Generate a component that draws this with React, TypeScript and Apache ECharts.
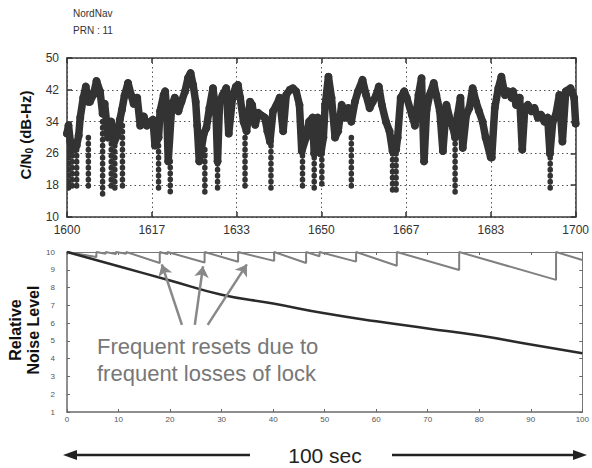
import React, { useEffect, useRef } from 'react';
import * as echarts from 'echarts';

// ---------- Top panel: C/N0 over time (NordNav, PRN 11) ----------
const topTickLabels = ['1600', '1617', '1633', '1650', '1667', '1683', '1700'];
const cnTickValues = [10, 18, 26, 34, 42, 50];

const cnTime = [
  1600.0, 1600.3, 1600.65, 1601.3, 1601.9, 1602.3, 1602.6, 1603.2, 1603.7, 1604.2,
  1604.5, 1605.2, 1605.8, 1606.5, 1607.0, 1607.4, 1608.1, 1608.7, 1609.3, 1609.9,
  1610.4, 1610.8, 1611.3, 1612.0, 1612.6, 1613.1, 1613.8, 1614.4, 1615.1, 1615.7,
  1616.4, 1616.9, 1617.3, 1618.0, 1618.3, 1619.0, 1619.3, 1619.6, 1619.9, 1620.6,
  1621.2, 1621.9, 1622.5, 1623.2, 1623.8, 1624.3, 1624.8, 1625.3, 1625.6, 1626.0,
  1626.4, 1626.9, 1627.4, 1628.0, 1628.7, 1629.3, 1629.6, 1630.0, 1630.6, 1631.3,
  1631.8, 1632.6, 1633.2, 1633.6, 1634.05, 1634.7, 1635.3, 1636.0, 1636.4, 1637.0,
  1637.6, 1638.3, 1638.9, 1639.4, 1639.9, 1640.5, 1641.2, 1641.8, 1642.5, 1643.1,
  1643.8, 1644.4, 1645.05, 1645.7, 1646.15, 1647.0, 1647.6, 1648.3, 1648.6, 1649.3,
  1649.9, 1650.4, 1650.75, 1651.4, 1652.0, 1652.7, 1653.3, 1654.0, 1654.6, 1655.3,
  1655.9, 1656.6, 1657.2, 1658.1, 1658.8, 1659.5, 1660.1, 1660.8, 1661.3, 1661.9,
  1662.7, 1663.4, 1664.0, 1664.7, 1665.0, 1665.6, 1666.3, 1666.8, 1667.8, 1668.4,
  1669.1, 1669.7, 1670.2, 1670.7, 1671.3, 1672.1, 1672.6, 1673.3, 1673.9, 1674.6,
  1675.2, 1675.9, 1676.3, 1676.8, 1677.35, 1677.8, 1678.5, 1679.1, 1679.75, 1680.4,
  1681.0, 1681.7, 1682.3, 1683.3, 1683.5, 1684.1, 1684.8, 1685.4, 1686.1, 1686.7,
  1687.4, 1687.7, 1688.3, 1689.0, 1689.5, 1690.0, 1690.6, 1691.3, 1691.9, 1692.55,
  1693.2, 1693.85, 1694.5, 1694.95, 1695.5, 1696.1, 1696.8, 1697.4, 1698.05, 1699.0,
  1699.7, 1700.0,
];
const cnValue = [
  31, 33, 29, 27, 28, 30.5, 35, 40, 42.8, 39,
  39, 40.8, 44.2, 41.6, 36, 38.5, 30, 34, 29, 30.5,
  34.5, 37, 40.5, 43.7, 40.7, 38.5, 40, 33, 35.3, 33,
  34, 34.5, 28, 30, 36.6, 40.7, 41.6, 37, 24, 38.2,
  40, 36.6, 39, 41.6, 45, 46.2, 43.2, 39, 33, 24,
  27, 31, 32.4, 37.4, 42.4, 36, 24, 39, 40.7, 42.4,
  31, 40.7, 42.8, 43.2, 40, 34, 31.6, 39, 38.2, 33.2,
  36.2, 35.5, 35, 31.6, 29, 36.6, 38.2, 40, 31.6, 40.7,
  42, 42.4, 41.6, 38.2, 26.6, 30, 34, 35, 26, 35,
  26, 30, 38, 45.3, 40, 30, 31.6, 38.2, 35, 37.4,
  34, 39, 41.6, 44.5, 40.7, 37.4, 39, 40.7, 42.8, 38.2,
  34, 31.6, 26.6, 27, 30, 40, 41.6, 40, 35.7, 33,
  40.7, 44.9, 24, 37, 40.7, 43.7, 40.7, 36.6, 26.6, 38.2,
  35, 32.4, 30, 35.7, 40, 27.4, 35.7, 37.4, 42.4, 39,
  36.6, 34, 30, 25, 25, 37.4, 42.4, 45.3, 40.7, 41.6,
  40, 41.6, 38.2, 40, 27, 37.4, 38.2, 36.6, 37.4, 35,
  35.7, 34, 35, 26, 34, 35.7, 40.7, 29, 41.6, 42.4,
  40, 33.5,
];

// Loss-of-lock dropouts (chains of low readings)
const dropTime = [
  1600.3, 1601.0, 1601.9, 1604.2, 1607.0, 1608.7, 1609.4, 1610.9, 1618.0, 1620.3,
  1627.1, 1629.6, 1635.0, 1640.1, 1646.3, 1648.6, 1650.1, 1655.9, 1664.0, 1664.7,
  1676.3, 1695.0,
];
const dropTop = [
  28, 27, 27, 30, 34, 30, 28, 33, 28, 24,
  27, 25, 30, 28, 27, 25, 26, 30, 26, 26,
  30, 25,
];
const dropLow = [
  17, 16.5, 16.5, 17, 15.8, 16.5, 17, 17, 16.5, 16,
  16, 17, 16.5, 16.5, 17, 17, 17, 17, 16.5, 16.5,
  16, 16.5,
];

// ---------- Bottom panel: relative noise level ----------
const noiseX = [0, 10, 20, 30, 40, 50, 60, 70, 80, 90, 100];
const noiseY = [10, 9.2, 8.4, 7.6, 7.1, 6.55, 6.1, 5.7, 5.3, 4.8, 4.3];

const sawX = [
  0, 5.7, 5.7, 7.5, 7.5, 9.5, 9.5, 11.5, 11.5, 18, 18, 19.5, 19.5, 26.7, 26.7,
  33.2, 33.2, 40.2, 40.2, 46.4, 46.4, 49, 49, 56.1, 56.1, 64, 64, 76.1, 76.1,
  94.9, 94.9, 100,
];
const sawY = [
  10, 9.72, 10, 9.9, 10, 9.88, 10, 9.9, 10, 9.38, 10, 9.88, 10, 9.41, 10,
  9.45, 10, 9.5, 10, 9.38, 10, 9.76, 10, 9.46, 10, 9.23, 10, 8.99, 10,
  8.43, 10, 9.55,
];

// Annotation arrows (data coordinates of the bottom panel)
const arrowFromX = [22.3, 24.8, 27.3];
const arrowFromY = [5.9, 5.9, 5.9];
const arrowToX = [18.4, 26.4, 34.9];
const arrowToY = [9.3, 9.2, 9.3];

const FONT = "'Liberation Sans Narrow', 'Liberation Sans', Arial, sans-serif";
const FONT_W = "'Liberation Sans', Arial, sans-serif";

export default function App() {
  const ref = useRef<HTMLDivElement>(null);

  useEffect(() => {
    const chart = echarts.init(ref.current as HTMLDivElement, null, { renderer: 'svg' });
    const sx = (t: number) => (t - 1600) * 0.06;

    const topAxisLine = { show: true, onZero: false, lineStyle: { color: '#3a3a3a', width: 1.5 } };
    const topTick = { show: true, inside: true, length: 5, lineStyle: { color: '#333', width: 1.5 } };
    const gridDot = { show: true, lineStyle: { color: '#555', type: [1.5, 3], width: 1 } };
    const botAxisLine = { show: true, onZero: false, lineStyle: { color: '#6a6a6a', width: 1.5 } };
    const botTick = { show: true, inside: true, length: 3, lineStyle: { color: '#666', width: 1 } };

    const option: any = {
      animation: false,
      grid: [
        { left: 67, top: 58, width: 515, height: 159 },
        { left: 67, top: 252, width: 516, height: 160 },
      ],
      xAxis: [
        {
          gridIndex: 0, type: 'value', min: 0, max: 6, interval: 1, position: 'bottom',
          axisLine: topAxisLine, axisTick: topTick, splitLine: gridDot,
          axisLabel: {
            formatter: (v: number) => topTickLabels[Math.round(v)],
            color: '#333', fontSize: 12, fontFamily: FONT, margin: 7,
          },
        },
        {
          gridIndex: 0, type: 'value', min: 0, max: 6, interval: 1, position: 'top',
          axisLine: topAxisLine, axisTick: topTick, splitLine: { show: false },
          axisLabel: { show: false },
        },
        {
          gridIndex: 1, type: 'value', min: 0, max: 100, interval: 10, position: 'bottom',
          axisLine: botAxisLine, axisTick: botTick, splitLine: { show: false },
          axisLabel: { color: '#555', fontSize: 8, fontFamily: FONT_W, margin: 3 },
        },
        {
          gridIndex: 1, type: 'value', min: 0, max: 100, interval: 10, position: 'top',
          axisLine: { show: true, onZero: false, lineStyle: { color: '#777', width: 1 } },
          axisTick: botTick, splitLine: { show: false }, axisLabel: { show: false },
        },
      ],
      yAxis: [
        {
          gridIndex: 0, type: 'value', min: 0, max: 40, interval: 8, position: 'left',
          axisLine: topAxisLine, axisTick: topTick, splitLine: gridDot,
          axisLabel: {
            formatter: (v: number) => String(cnTickValues[Math.round(v / 8)]),
            color: '#333', fontSize: 12, fontFamily: FONT, margin: 8,
          },
        },
        {
          gridIndex: 0, type: 'value', min: 0, max: 40, interval: 8, position: 'right',
          axisLine: topAxisLine, axisTick: topTick, splitLine: { show: false },
          axisLabel: { show: false },
        },
        {
          gridIndex: 1, type: 'value', min: 1, max: 10, interval: 1, position: 'left',
          axisLine: botAxisLine, axisTick: botTick, splitLine: { show: false },
          axisLabel: { color: '#555', fontSize: 8, fontFamily: FONT_W, margin: 12 },
        },
        {
          gridIndex: 1, type: 'value', min: 1, max: 10, interval: 1, position: 'right',
          axisLine: { show: true, onZero: false, lineStyle: { color: '#777', width: 1 } },
          axisTick: botTick, splitLine: { show: false }, axisLabel: { show: false },
        },
      ],
      series: [
        {
          type: 'custom',
          xAxisIndex: 0, yAxisIndex: 0,
          clip: true,
          data: dropTime.map((t, i) => [sx(t), dropTop[i] - 10, dropLow[i] - 10]),
          encode: { x: 0, y: [1, 2] },
          renderItem: (params: any, api: any) => {
            const p1 = api.coord([api.value(0), api.value(1)]);
            const p2 = api.coord([api.value(0), api.value(2)]);
            return {
              type: 'line',
              shape: { x1: p1[0], y1: p1[1], x2: p2[0], y2: p2[1] },
              style: { stroke: '#333', lineWidth: 5.5, lineDash: [0.5, 5.5], lineCap: 'round' },
            };
          },
        },
        {
          type: 'line',
          xAxisIndex: 0, yAxisIndex: 0,
          data: cnTime.map((t, i) => [sx(t), cnValue[i] - 10]),
          symbol: 'circle', symbolSize: 8, showSymbol: true,
          itemStyle: { color: '#333' },
          lineStyle: { color: '#333', width: 7.5, join: 'round', cap: 'round' },
          clip: true,
        },
        {
          type: 'line',
          xAxisIndex: 2, yAxisIndex: 2,
          data: sawX.map((x, i) => [x, sawY[i]]),
          showSymbol: false,
          lineStyle: { color: '#808080', width: 2 },
          markLine: {
            silent: true,
            symbol: ['none', 'arrow'],
            symbolSize: 11,
            label: { show: false },
            lineStyle: { color: '#888', width: 2.5, type: 'solid' },
            data: arrowFromX.map((x, i) => [
              { coord: [x, arrowFromY[i]] },
              { coord: [arrowToX[i], arrowToY[i]] },
            ]),
          },
        },
        {
          type: 'line',
          xAxisIndex: 2, yAxisIndex: 2,
          data: noiseX.map((x, i) => [x, noiseY[i]]),
          smooth: true,
          showSymbol: false,
          lineStyle: { color: '#2a2a2a', width: 2.5 },
        },
      ],
      graphic: [
        { type: 'text', left: 73, top: 8, style: { text: 'NordNav', fontSize: 10, fontFamily: FONT, fill: '#333' } },
        { type: 'text', left: 73, top: 25, style: { text: 'PRN : 11', fontSize: 10, fontFamily: FONT, fill: '#333' } },
        {
          type: 'text', x: 25, y: 135, rotation: Math.PI / 2,
          style: {
            text: '{a|C/N}{s|0}{a| (dB-Hz)}',
            align: 'center', verticalAlign: 'middle',
            rich: {
              a: { fontSize: 15, fontWeight: 'bold', fontFamily: FONT_W, fill: '#111' },
              s: { fontSize: 10, fontWeight: 'bold', fontFamily: FONT_W, fill: '#111', padding: [8, 0, 0, 0] },
            },
          },
        },
        {
          type: 'text', x: 24, y: 330, rotation: Math.PI / 2,
          style: {
            text: 'Relative\nNoise Level',
            align: 'center', verticalAlign: 'middle',
            fontSize: 16, fontWeight: 'bold', fontFamily: FONT_W, fill: '#111', lineHeight: 18,
          },
        },
        {
          type: 'text', left: 97, top: 333,
          style: {
            text: 'Frequent resets due to\nfrequent losses of lock',
            fontSize: 22, fontFamily: FONT_W, fill: '#777', lineHeight: 27,
          },
        },
        {
          type: 'text', x: 325, y: 455,
          style: { text: '100 sec', align: 'center', verticalAlign: 'middle', fontSize: 21, fontFamily: FONT_W, fill: '#222' },
        },
        { type: 'line', shape: { x1: 250, y1: 455, x2: 72, y2: 455 }, style: { stroke: '#222', lineWidth: 2.5 } },
        { type: 'polygon', shape: { points: [[63, 455], [77, 450], [77, 460]] }, style: { fill: '#222' } },
        { type: 'line', shape: { x1: 392, y1: 455, x2: 578, y2: 455 }, style: { stroke: '#222', lineWidth: 2.5 } },
        { type: 'polygon', shape: { points: [[587, 455], [573, 450], [573, 460]] }, style: { fill: '#222' } },
      ],
    };

    chart.setOption(option);
    return () => chart.dispose();
  }, []);

  return (
    <div
      ref={ref}
      style={{ position: 'absolute', left: 0, top: 0, width: 592, height: 468, background: '#fff' }}
    />
  );
}
